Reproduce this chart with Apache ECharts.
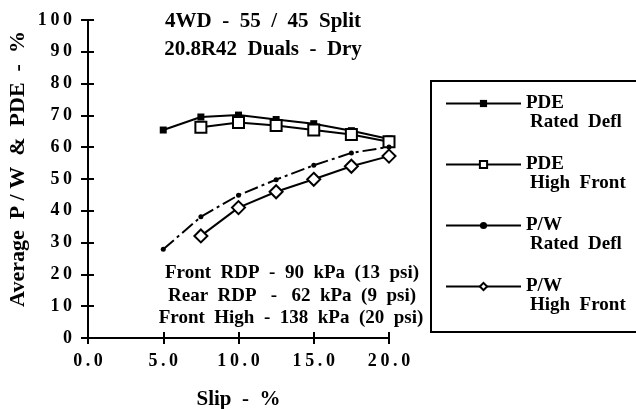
<!DOCTYPE html>
<html>
<head>
<meta charset="utf-8">
<script src="https://cdn.jsdelivr.net/npm/echarts@6/dist/echarts.min.js"></script>
<style>
  html, body { margin: 0; padding: 0; background: #fff; }
  #chart { width: 636px; height: 409px; }
</style>
</head>
<body>
<div id="chart"></div>
<script>
// slip values (%) where the tests were run
var slipPdeRated = [5, 7.5, 10, 12.5, 15, 17.5, 20];
var pdeRated = [65.4, 69.5, 70.1, 68.7, 67.4, 65.2, 62.6];
var slipPdeHigh = [7.5, 10, 12.5, 15, 17.5, 20];
var pdeHigh = [66.3, 67.8, 66.8, 65.4, 64.0, 61.7];
var slipPwRated = [5, 7.5, 10, 12.5, 15, 17.5, 20];
var pwRated = [27.9, 38.1, 44.9, 49.8, 54.3, 58.2, 60.1];
var slipPwHigh = [7.5, 10, 12.5, 15, 17.5, 20];
var pwHigh = [32.1, 41.0, 46.0, 49.9, 54.0, 57.2];

var seriesNames = ['PDE Rated Defl', 'PDE High Front', 'P/W Rated Defl', 'P/W High Front'];
var legendLabels = {
    'PDE Rated Defl': ['PDE', 'Rated  Defl'],
    'PDE High Front': ['PDE', 'High  Front'],
    'P/W Rated Defl': ['P/W', 'Rated  Defl'],
    'P/W High Front': ['P/W', 'High  Front']
};

var FONT = '"Liberation Serif", "DejaVu Serif", serif';
var TS = '\u2009'; // thin space, widens the tick labels like the original

function pairs(xs, ys) {
    return xs.map(function (x, i) { return [x, ys[i]]; });
}
function spaced(s) {
    return String(s).split('').join(TS);
}

var chartDom = document.getElementById('chart');
var myChart = echarts.init(chartDom, null, { renderer: 'canvas' });
var option;

option = {
    backgroundColor: '#fff',
    animation: false,
    grid: { left: 88, right: 247, top: 20, bottom: 71, outerBoundsMode: 'none', containLabel: false },
    xAxis: [
        {
            type: 'value', min: 0, max: 20, interval: 5,
            name: 'Slip  -  %', nameLocation: 'middle', nameGap: 51,
            nameTextStyle: { fontFamily: FONT, fontWeight: 'bold', fontSize: 21, color: '#000' },
            axisLine: { lineStyle: { color: '#000', width: 2 } },
            axisTick: { length: 6, lineStyle: { color: '#000', width: 2 } },
            axisLabel: {
                margin: 14, fontFamily: FONT, fontWeight: 'bold', fontSize: 18, color: '#000',
                formatter: function (v) { return spaced(v.toFixed(1)); }
            },
            splitLine: { show: false }
        },
        {
            type: 'value', min: 0, max: 20, interval: 5, position: 'bottom',
            axisLine: { show: false },
            axisTick: { inside: true, length: 6, lineStyle: { color: '#000', width: 2 } },
            axisLabel: { show: false },
            splitLine: { show: false }
        }
    ],
    yAxis: [
        {
            type: 'value', min: 0, max: 100, interval: 10,
            name: 'Average  P / W  &  PDE  -  %', nameLocation: 'middle', nameGap: 59,
            nameTextStyle: {
                fontFamily: FONT, fontWeight: 'bold', fontSize: 22, color: '#000',
                padding: [0, 0, 0, 20]
            },
            axisLine: { show: true, lineStyle: { color: '#000', width: 2 } },
            axisTick: { show: true, length: 7, lineStyle: { color: '#000', width: 2 } },
            axisLabel: {
                margin: 16, fontFamily: FONT, fontWeight: 'bold', fontSize: 18, color: '#000',
                formatter: function (v) { return spaced(v); }
            },
            splitLine: { show: false }
        },
        {
            type: 'value', min: 0, max: 100, interval: 10, position: 'left',
            axisLine: { show: false },
            axisTick: { show: true, inside: true, length: 6, lineStyle: { color: '#000', width: 2 } },
            axisLabel: { show: false },
            splitLine: { show: false }
        }
    ],
    legend: {
        orient: 'vertical',
        left: 445, top: 94, padding: 0,
        itemWidth: 75, itemHeight: 9, itemGap: 23,
        data: seriesNames.map(function (n) {
            return { name: n, lineStyle: { type: 'solid' } };
        }),
        formatter: function (name) {
            var l = legendLabels[name];
            return '{a|' + l[0] + '}\n{b|' + l[1] + '}';
        },
        textStyle: {
            padding: [19, 0, 0, 0],
            rich: {
                a: { fontFamily: FONT, fontWeight: 'bold', fontSize: 19, color: '#000', lineHeight: 19 },
                b: { fontFamily: FONT, fontWeight: 'bold', fontSize: 19, color: '#000', lineHeight: 19, padding: [0, 0, 0, 4] }
            }
        }
    },
    series: [
        {
            name: seriesNames[0], type: 'line',
            data: pairs(slipPdeRated, pdeRated),
            symbol: 'rect', symbolSize: 7,
            itemStyle: { color: '#000' },
            lineStyle: { color: '#000', width: 2 }
        },
        {
            name: seriesNames[1], type: 'line',
            data: pairs(slipPdeHigh, pdeHigh),
            symbol: 'rect', symbolSize: 11,
            itemStyle: { color: '#fff', borderColor: '#000', borderWidth: 2 },
            lineStyle: { color: '#000', width: 2 }
        },
        {
            name: seriesNames[2], type: 'line',
            data: pairs(slipPwRated, pwRated),
            symbol: 'circle', symbolSize: 5,
            itemStyle: { color: '#000' },
            lineStyle: { color: '#000', width: 2, type: [14, 4, 3, 4] }
        },
        {
            name: seriesNames[3], type: 'line',
            data: pairs(slipPwHigh, pwHigh),
            symbol: 'diamond', symbolSize: 13,
            itemStyle: { color: '#fff', borderColor: '#000', borderWidth: 2 },
            lineStyle: { color: '#000', width: 2 }
        }
    ],
    graphic: [
        {
            type: 'rect', z: -1,
            shape: { x: 431, y: 81, width: 220, height: 251 },
            style: { fill: 'none', stroke: '#000', lineWidth: 2 }
        },
        {
            type: 'text', x: 263, y: 22,
            style: {
                text: '4WD  -  55  /  45  Split', align: 'center', verticalAlign: 'middle',
                font: 'bold 21px ' + FONT, fill: '#000'
            }
        },
        {
            type: 'text', x: 263, y: 50,
            style: {
                text: '20.8R42  Duals  -  Dry', align: 'center', verticalAlign: 'middle',
                font: 'bold 21px ' + FONT, fill: '#000'
            }
        },
        {
            type: 'text', x: 292, y: 273,
            style: {
                text: 'Front  RDP  -  90  kPa  (13  psi)', align: 'center', verticalAlign: 'middle',
                font: 'bold 19px ' + FONT, fill: '#000'
            }
        },
        {
            type: 'text', x: 292, y: 296,
            style: {
                text: 'Rear  RDP   -   62  kPa  (9  psi)', align: 'center', verticalAlign: 'middle',
                font: 'bold 19px ' + FONT, fill: '#000'
            }
        },
        {
            type: 'text', x: 291, y: 318,
            style: {
                text: 'Front  High  -  138  kPa  (20  psi)', align: 'center', verticalAlign: 'middle',
                font: 'bold 19px ' + FONT, fill: '#000'
            }
        }
    ]
};

option && myChart.setOption(option);
</script>
</body>
</html>
